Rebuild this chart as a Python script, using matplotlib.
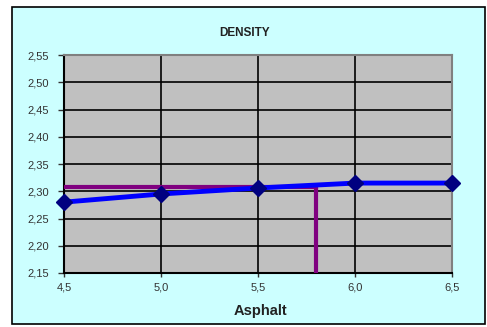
import numpy as np
import matplotlib.pyplot as plt
from matplotlib.patches import Rectangle
from matplotlib.ticker import FuncFormatter

# datos
asfalto = [4.5, 5.0, 5.5, 6.0, 6.5]
densidad = [2.280, 2.295, 2.306, 2.315, 2.315]
opt_x = 5.8
opt_y = 2.308

plt.rcParams['font.family'] = ['Liberation Sans', 'DejaVu Sans']

fig = plt.figure(figsize=(4.87, 3.27), dpi=100)
fig.patch.set_facecolor('white')
fig.patches.append(Rectangle((12 / 487, 1 - 324 / 327), 473 / 487, 317 / 327,
                             transform=fig.transFigure, facecolor='#CCFFFF',
                             edgecolor='black', linewidth=1.2, zorder=-1))

ax = fig.add_axes([64 / 487, 1 - 273 / 327, 388 / 487, 218 / 327])
ax.set_zorder(1)
ax.set_facecolor('#C0C0C0')

ax.plot([asfalto[0], opt_x], [opt_y, opt_y], color='#800080', lw=3, zorder=3)
ax.plot([opt_x, opt_x], [2.15, opt_y], color='#800080', lw=3, zorder=3)
ax.plot(asfalto, densidad, color='#0000FF', lw=3.5, marker='D', markersize=8,
        markerfacecolor='#000080', markeredgecolor='#000080', zorder=4, clip_on=False)

ax.set_xlim(4.5, 6.5)
ax.set_ylim(2.15, 2.55)
ax.set_xticks(np.arange(4.5, 6.51, 0.5))
ax.set_yticks(np.arange(2.15, 2.551, 0.05))
ax.xaxis.set_major_formatter(FuncFormatter(lambda v, p: f'{v:.1f}'.replace('.', ',')))
ax.yaxis.set_major_formatter(FuncFormatter(lambda v, p: f'{v:.2f}'.replace('.', ',')))
ax.grid(True, color='black', lw=1.2)
ax.set_axisbelow(True)
ax.tick_params(axis='y', direction='out', length=4, width=1, pad=7, labelsize=8, colors='#333333')
ax.tick_params(axis='x', direction='out', length=3, width=1, pad=4, labelsize=8, colors='#333333')
for s in ['left', 'bottom']:
    ax.spines[s].set_color('black')
    ax.spines[s].set_linewidth(1.5)
for s in ['top', 'right']:
    ax.spines[s].set_color('#808080')
    ax.spines[s].set_linewidth(1.5)

fig.text(245 / 487, 1 - 36 / 327, 'DENSITY', ha='center', va='baseline',
         fontsize=8.5, fontweight='bold', color='#222222')
fig.text(260 / 487, 1 - 315 / 327, 'Asphalt', ha='center', va='baseline',
         fontsize=10.5, fontweight='bold', color='#222222')

fig.savefig('out.png', dpi=100, facecolor=fig.get_facecolor())
